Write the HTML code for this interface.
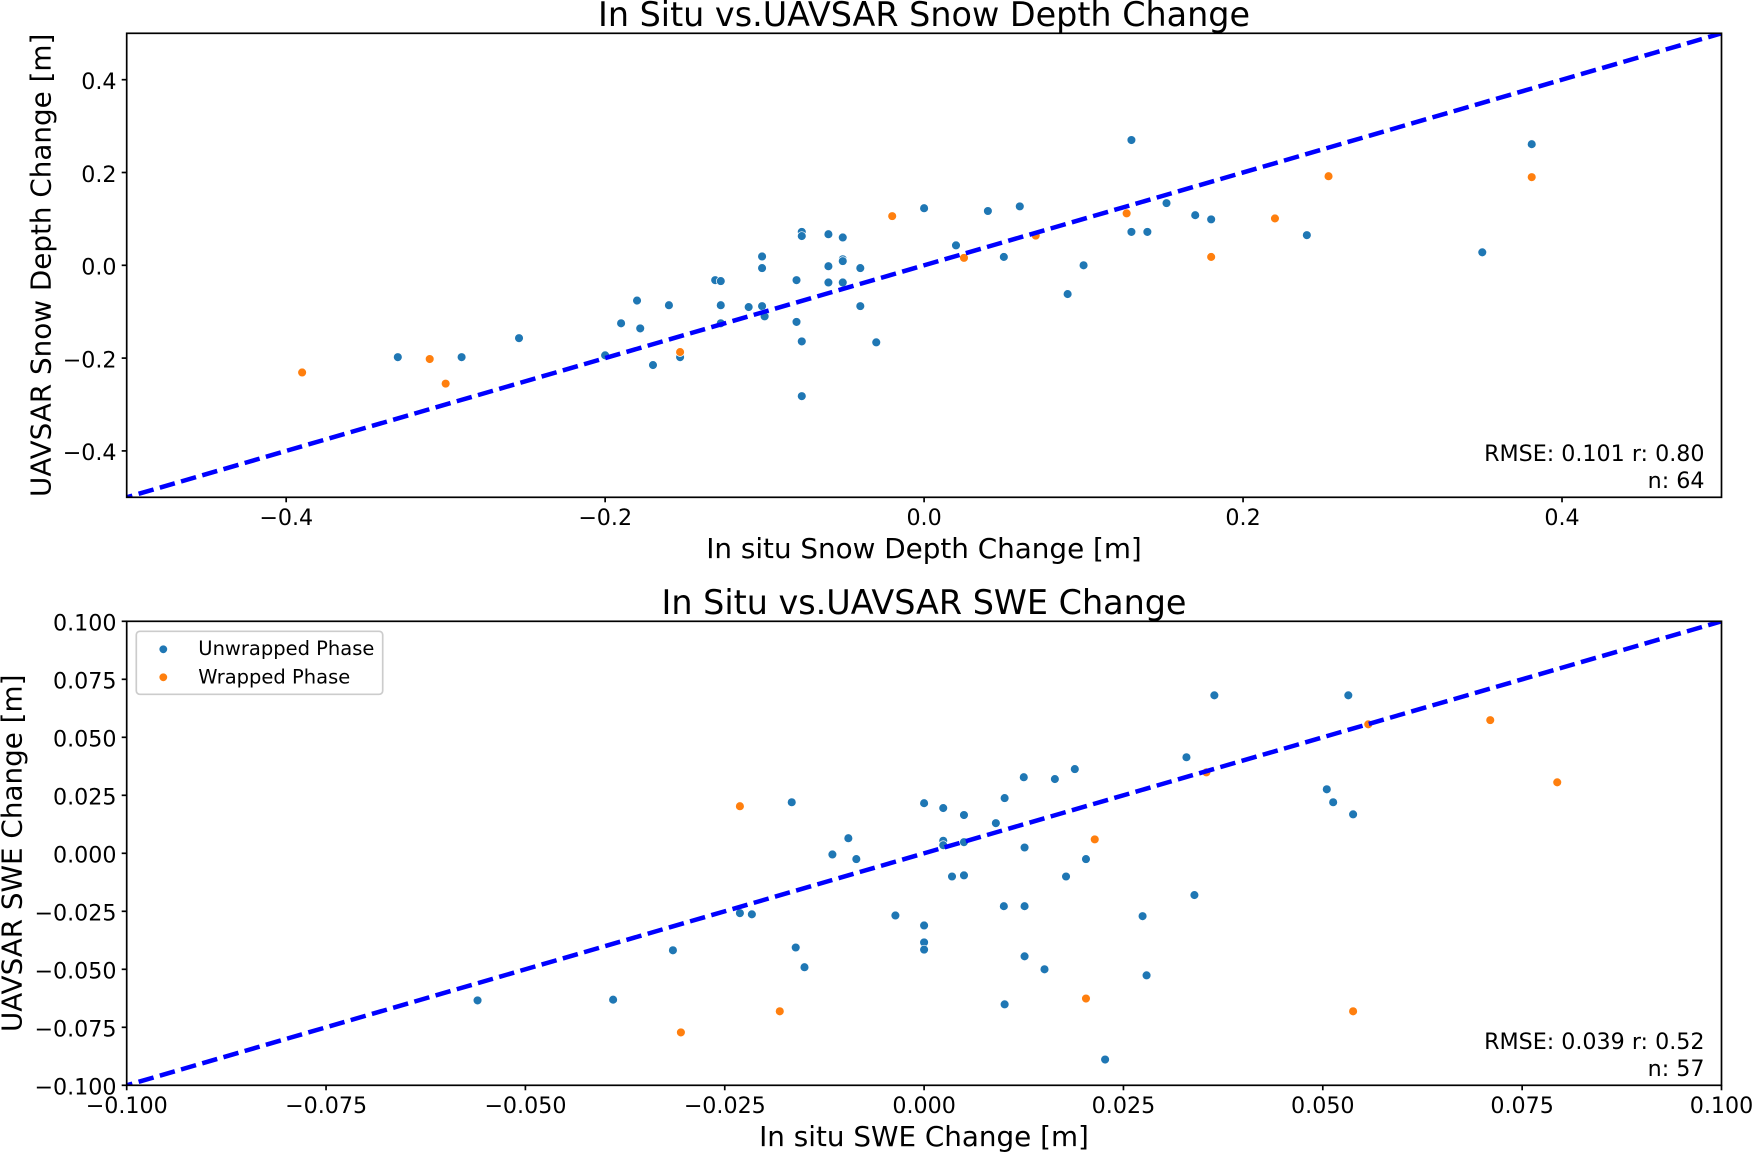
<!DOCTYPE html>
<html lang="en">
<head>
<meta charset="utf-8">
<title>In Situ vs. UAVSAR Change</title>
<style>
html,body{margin:0;padding:0;background:#fff;width:1752px;height:1152px;overflow:hidden}
svg{display:block;font-family:"DejaVu Sans","Liberation Sans",sans-serif}
</style>
</head>
<body>
<svg id="fig" xmlns="http://www.w3.org/2000/svg" width="1752" height="1152" viewBox="0 0 1752 1152">
<rect x="0" y="0" width="1752" height="1152" fill="#fff"/>
<defs>
<clipPath id="clipTop"><rect x="126.7" y="33.3" width="1594.8" height="464"/></clipPath>
<clipPath id="clipBot"><rect x="126.7" y="621.3" width="1594.8" height="464"/></clipPath>
</defs>
<g id="depth-chart"></g>
<g id="swe-chart"></g>
<text x="924" y="26" font-size="33.4" text-anchor="middle">In Situ vs.UAVSAR Snow Depth Change</text>
<text x="924" y="558" font-size="27.8" text-anchor="middle">In situ Snow Depth Change [m]</text>
<text x="0" y="0" font-size="27.8" text-anchor="middle" transform="translate(50.5 265.3) rotate(-90)">UAVSAR Snow Depth Change [m]</text>
<text x="1704.5" y="461" font-size="22.2" text-anchor="end">RMSE: 0.101 r: 0.80</text>
<text x="1704.5" y="488" font-size="22.2" text-anchor="end">n: 64</text>
<text x="924" y="614" font-size="33.4" text-anchor="middle">In Situ vs.UAVSAR SWE Change</text>
<text x="924" y="1146" font-size="27.8" text-anchor="middle">In situ SWE Change [m]</text>
<text x="0" y="0" font-size="27.8" text-anchor="middle" transform="translate(21.5 853.3) rotate(-90)">UAVSAR SWE Change [m]</text>
<text x="1704.5" y="1049" font-size="22.2" text-anchor="end">RMSE: 0.039 r: 0.52</text>
<text x="1704.5" y="1076" font-size="22.2" text-anchor="end">n: 57</text>
<g>
<rect x="136.3" y="631.3" width="246.4" height="63" rx="3.5" fill="#fff" fill-opacity="0.8" stroke="#ccc" stroke-width="1.7"/>
<circle cx="163.3" cy="649.3" r="3.9" fill="#1f77b4"/>
<text x="198.3" y="654.8" font-size="19.5">Unwrapped Phase</text>
<circle cx="163.3" cy="677.3" r="3.9" fill="#ff7f0e"/>
<text x="198.3" y="683.3" font-size="19.5">Wrapped Phase</text>
</g>
</svg>
<script>
const depthXTicks = [-0.4, -0.2, 0, 0.2, 0.4];
const depthXTickLabels = ["\u22120.4", "\u22120.2", "0.0", "0.2", "0.4"];
const depthYTicks = [-0.4, -0.2, 0, 0.2, 0.4];
const depthYTickLabels = ["\u22120.4", "\u22120.2", "0.0", "0.2", "0.4"];
const depthLimits = [-0.5, 0.5];
const depthUnwrappedX = [-0.33,-0.29,-0.254,-0.2,-0.19,-0.18,-0.178,-0.17,-0.16,-0.153,-0.131,-0.1275,-0.1275,-0.1275,-0.11,-0.1016,-0.1016,-0.1016,-0.1,-0.1,-0.08,-0.08,-0.0767,-0.0767,-0.0767,-0.0767,-0.06,-0.06,-0.06,-0.051,-0.051,-0.051,-0.051,-0.04,-0.04,-0.03,0,0.02,0.04,0.05,0.06,0.09,0.1,0.13,0.13,0.14,0.152,0.17,0.18,0.24,0.35,0.381];
const depthUnwrappedY = [-0.198,-0.198,-0.157,-0.194,-0.125,-0.076,-0.136,-0.215,-0.086,-0.198,-0.032,-0.034,-0.086,-0.125,-0.09,0.019,-0.006,-0.088,-0.105,-0.11,-0.032,-0.122,0.072,0.063,-0.164,-0.282,0.067,-0.002,-0.037,0.06,0.013,0.009,-0.037,-0.006,-0.088,-0.166,0.123,0.043,0.117,0.018,0.127,-0.062,0,0.27,0.072,0.072,0.134,0.108,0.099,0.065,0.028,0.261];
const depthWrappedX = [-0.39,-0.31,-0.3,-0.153,-0.02,0.025,0.07,0.127,0.18,0.22,0.2536,0.381];
const depthWrappedY = [-0.231,-0.202,-0.255,-0.187,0.106,0.016,0.064,0.112,0.018,0.101,0.192,0.19];

const sweXTicks = [-0.1, -0.075, -0.05, -0.025, 0, 0.025, 0.05, 0.075, 0.1];
const sweXTickLabels = ["\u22120.100", "\u22120.075", "\u22120.050", "\u22120.025", "0.000", "0.025", "0.050", "0.075", "0.100"];
const sweYTicks = [-0.1, -0.075, -0.05, -0.025, 0, 0.025, 0.05, 0.075, 0.1];
const sweYTickLabels = ["\u22120.100", "\u22120.075", "\u22120.050", "\u22120.025", "0.000", "0.025", "0.050", "0.075", "0.100"];
const sweLimits = [-0.1, 0.1];
const sweUnwrappedX = [-0.056,-0.039,-0.0315,-0.0231,-0.0216,-0.0166,-0.0161,-0.015,-0.0115,-0.0095,-0.0085,-0.0036,0,0,0,0,0.0024,0.0024,0.0024,0.0035,0.005,0.005,0.005,0.009,0.01,0.0101,0.0101,0.0125,0.0126,0.0126,0.0126,0.0151,0.0164,0.0178,0.0189,0.0203,0.0227,0.0274,0.0279,0.0329,0.0339,0.0364,0.0505,0.0513,0.0532,0.0538];
const sweUnwrappedY = [-0.0634,-0.0631,-0.0418,-0.0258,-0.0263,0.022,-0.0406,-0.0491,-0.0005,0.0065,-0.0025,-0.0268,0.0216,-0.0311,-0.0384,-0.0415,0.0195,0.0054,0.0035,-0.01,0.0165,0.0048,-0.0095,0.013,-0.0228,0.0238,-0.0651,0.0328,0.0025,-0.0228,-0.0444,-0.05,0.032,-0.01,0.0363,-0.0025,-0.0889,-0.0271,-0.0526,0.0414,-0.018,0.0681,0.0276,0.022,0.0681,0.0168];
const sweWrappedX = [-0.0305,-0.0231,-0.0181,0.0203,0.0214,0.0354,0.0538,0.0557,0.071,0.0794];
const sweWrappedY = [-0.0772,0.0203,-0.0681,-0.0626,0.006,0.0349,-0.0681,0.0556,0.0574,0.0306];

const NS = "http://www.w3.org/2000/svg";

function drawChart(groupId, box, clipId, limits, xTicks, xLabels, yTicks, yLabels, blueX, blueY, orangeX, orangeY, dashOffset) {
  const g = document.getElementById(groupId);
  const sx = v => box.left + (v - limits[0]) / (limits[1] - limits[0]) * (box.right - box.left);
  const sy = v => box.bottom - (v - limits[0]) / (limits[1] - limits[0]) * (box.bottom - box.top);

  blueX.forEach((v, i) => {
    const c = document.createElementNS(NS, "circle");
    
    
    c.setAttribute("cx", sx(v));
    c.setAttribute("cy", sy(blueY[i]));
    c.setAttribute("r", 4.4);
    c.setAttribute("fill", "#1f77b4");
    c.setAttribute("stroke", "#fff");
    c.setAttribute("stroke-width", 0.7);
    g.appendChild(c);
  });
  orangeX.forEach((v, i) => {
    const c = document.createElementNS(NS, "circle");
    
    
    c.setAttribute("cx", sx(v));
    c.setAttribute("cy", sy(orangeY[i]));
    c.setAttribute("r", 4.4);
    c.setAttribute("fill", "#ff7f0e");
    c.setAttribute("stroke", "#fff");
    c.setAttribute("stroke-width", 0.7);
    g.appendChild(c);
  });

  const line = document.createElementNS(NS, "line");
  
  
  line.setAttribute("x1", sx(limits[0]));
  line.setAttribute("y1", sy(limits[0]));
  line.setAttribute("x2", sx(limits[1]));
  line.setAttribute("y2", sy(limits[1]));
  line.setAttribute("stroke", "#0000ff");
  line.setAttribute("stroke-width", 4.5);
  line.setAttribute("stroke-dasharray", "15.6 6.49");
  line.setAttribute("stroke-dashoffset", dashOffset);
  line.setAttribute("clip-path", "url(#" + clipId + ")");
  g.appendChild(line);

  const frame = document.createElementNS(NS, "rect");
  
  
  frame.setAttribute("x", box.left);
  frame.setAttribute("y", box.top);
  frame.setAttribute("width", box.right - box.left);
  frame.setAttribute("height", box.bottom - box.top);
  frame.setAttribute("fill", "none");
  frame.setAttribute("stroke", "#000");
  frame.setAttribute("stroke-width", 1.7);
  g.appendChild(frame);

  xTicks.forEach((v, i) => {
    const t = document.createElementNS(NS, "line");
    
    
    t.setAttribute("x1", sx(v));
    t.setAttribute("x2", sx(v));
    t.setAttribute("y1", box.bottom);
    t.setAttribute("y2", box.bottom + 5);
    t.setAttribute("stroke", "#000");
    t.setAttribute("stroke-width", 1.7);
    g.appendChild(t);
    const l = document.createElementNS(NS, "text");
    
    
    l.setAttribute("x", sx(v));
    l.setAttribute("y", box.bottom + 27.7);
    l.setAttribute("font-size", 22.2);
    l.setAttribute("text-anchor", "middle");
    l.textContent = xLabels[i];
    g.appendChild(l);
  });
  yTicks.forEach((v, i) => {
    const t = document.createElementNS(NS, "line");
    
    
    t.setAttribute("x1", box.left - 5);
    t.setAttribute("x2", box.left);
    t.setAttribute("y1", sy(v));
    t.setAttribute("y2", sy(v));
    t.setAttribute("stroke", "#000");
    t.setAttribute("stroke-width", 1.7);
    g.appendChild(t);
    const l = document.createElementNS(NS, "text");
    
    
    l.setAttribute("x", box.left - 10.2);
    l.setAttribute("y", sy(v) + 9.3);
    l.setAttribute("font-size", 22.2);
    l.setAttribute("text-anchor", "end");
    l.textContent = yLabels[i];
    g.appendChild(l);
  });
}

drawChart("depth-chart", {left:126.7, right:1721.5, top:33.3, bottom:497.3}, "clipTop", depthLimits, depthXTicks, depthXTickLabels, depthYTicks, depthYTickLabels, depthUnwrappedX, depthUnwrappedY, depthWrappedX, depthWrappedY, 9.7);
drawChart("swe-chart", {left:126.7, right:1721.5, top:621.3, bottom:1085.3}, "clipBot", sweLimits, sweXTicks, sweXTickLabels, sweYTicks, sweYTickLabels, sweUnwrappedX, sweUnwrappedY, sweWrappedX, sweWrappedY, 9.7);
</script>
</body>
</html>
